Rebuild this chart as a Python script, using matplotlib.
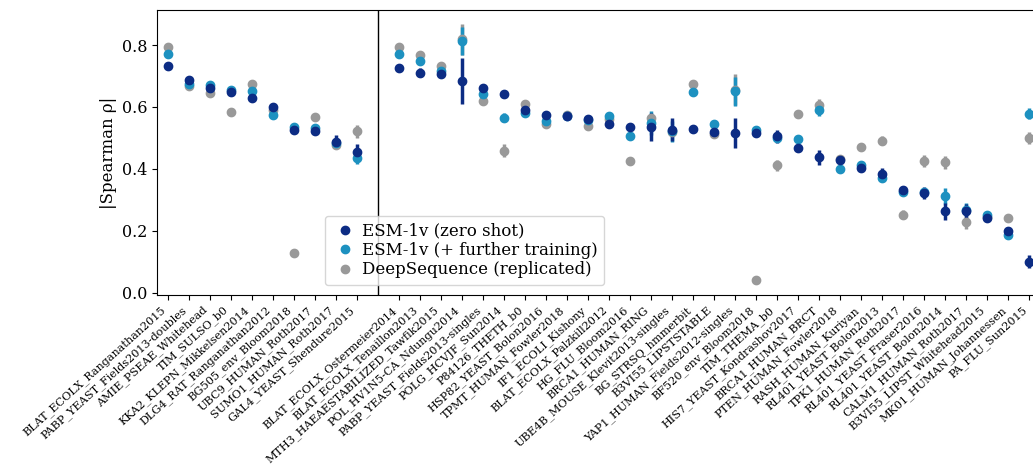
import numpy as np
import matplotlib.pyplot as plt
from matplotlib.lines import Line2D

plt.rcParams['font.family'] = 'DejaVu Serif'

left_names = ['BLAT_ECOLX_Ranganathan2015', 'PABP_YEAST_Fields2013-doubles',
              'AMIE_PSEAE_Whitehead', 'TIM_SULSO_b0', 'KKA2_KLEPN_Mikkelsen2014',
              'DLG4_RAT_Ranganathan2012', 'BG505_env_Bloom2018', 'UBC9_HUMAN_Roth2017',
              'SUMO1_HUMAN_Roth2017', 'GAL4_YEAST_Shendure2015']
right_names = ['BLAT_ECOLX_Ostermeier2014', 'BLAT_ECOLX_Tenaillon2013',
               'MTH3_HAEAESTABILIZED_Tawfik2015', 'POL_HV1N5-CA_Ndungu2014',
               'PABP_YEAST_Fields2013-singles', 'POLG_HCVJF_Sun2014', 'P84126_THETH_b0',
               'HSP82_YEAST_Bolon2016', 'TPMT_HUMAN_Fowler2018', 'IF1_ECOLI_Kishony',
               'BLAT_ECOLX_Palzkill2012', 'HG_FLU_Bloom2016', 'BRCA1_HUMAN_RING',
               'UBE4B_MOUSE_Klevit2013-singles', 'BG_STRSQ_hmmerbit', 'B3VI55_LIPSTSTABLE',
               'YAP1_HUMAN_Fields2012-singles', 'BF520_env_Bloom2018', 'TIM_THEMA_b0',
               'HIS7_YEAST_Kondrashov2017', 'BRCA1_HUMAN_BRCT', 'PTEN_HUMAN_Fowler2018',
               'RASH_HUMAN_Kuriyan', 'RL401_YEAST_Bolon2013', 'TPK1_HUMAN_Roth2017',
               'RL401_YEAST_Fraser2016', 'RL401_YEAST_Bolon2014', 'CALM1_HUMAN_Roth2017',
               'B3VI55_LIPST_Whitehead2015', 'MK01_HUMAN_Johannessen', 'PA_FLU_Sun2015']

# zero shot
esm_zs = [0.731, 0.686, 0.662, 0.647, 0.629, 0.601, 0.527, 0.524, 0.488, 0.455,
          0.727, 0.711, 0.706, 0.683, 0.662, 0.641, 0.589, 0.575, 0.572, 0.561,
          0.546, 0.536, 0.535, 0.527, 0.529, 0.518, 0.516, 0.516, 0.505, 0.468,
          0.437, 0.428, 0.402, 0.384, 0.333, 0.323, 0.263, 0.263, 0.242, 0.199, 0.101]
esm_zs_err = [0.005, 0.008, 0.008, 0.012, 0.005, 0.005, 0.008, 0.01, 0.02, 0.025,
              0.005, 0.015, 0.008, 0.075, 0.005, 0.005, 0.008, 0.005, 0.005, 0.005,
              0.005, 0.005, 0.046, 0.038, 0.005, 0.005, 0.048, 0.005, 0.02, 0.005,
              0.025, 0.005, 0.005, 0.018, 0.012, 0.02, 0.028, 0.025, 0.005, 0.015, 0.02]
# further training
esm_ft = [0.772, 0.675, 0.671, 0.656, 0.653, 0.575, 0.535, 0.532, 0.484, 0.435,
          0.772, 0.748, 0.715, 0.814, 0.643, 0.565, 0.581, 0.554, 0.570, 0.559,
          0.572, 0.505, 0.548, 0.521, 0.649, 0.545, 0.650, 0.527, 0.500, 0.497,
          0.591, 0.401, 0.414, 0.371, 0.325, 0.325, 0.312, 0.269, 0.250, 0.188, 0.578]
esm_ft_err = [0.005, 0.005, 0.01, 0.01, 0.008, 0.005, 0.005, 0.005, 0.01, 0.02,
              0.005, 0.008, 0.005, 0.045, 0.005, 0.015, 0.008, 0.005, 0.005, 0.005,
              0.005, 0.005, 0.04, 0.035, 0.005, 0.005, 0.046, 0.005, 0.01, 0.005,
              0.02, 0.005, 0.005, 0.01, 0.008, 0.01, 0.025, 0.02, 0.005, 0.01, 0.018]
# DeepSequence
ds = [0.794, 0.669, 0.645, 0.585, 0.673, 0.591, 0.128, 0.568, 0.478, 0.521,
      0.794, 0.769, 0.733, 0.819, 0.618, 0.459, 0.611, 0.545, 0.574, 0.538,
      0.560, 0.425, 0.565, 0.520, 0.673, 0.513, 0.655, 0.043, 0.412, 0.578,
      0.605, 0.433, 0.470, 0.491, 0.252, 0.425, 0.421, 0.230, 0.245, 0.240, 0.500]
ds_err = [0.005, 0.005, 0.008, 0.012, 0.005, 0.005, 0.005, 0.008, 0.01, 0.02,
          0.005, 0.005, 0.005, 0.05, 0.005, 0.02, 0.008, 0.005, 0.005, 0.005,
          0.005, 0.005, 0.01, 0.01, 0.005, 0.005, 0.05, 0.005, 0.018, 0.005,
          0.02, 0.005, 0.005, 0.015, 0.015, 0.02, 0.022, 0.025, 0.005, 0.005, 0.018]

names = left_names + right_names
x = list(range(len(left_names))) + list(range(len(left_names) + 1, len(names) + 1))

c_zs, c_ft, c_ds = '#0c2c84', '#1d91c0', '#999999'

fig = plt.figure(figsize=(10.33, 4.67), dpi=100)
ax = fig.add_axes([0.1523, 0.3683, 0.8543, 0.6103])

ax.errorbar(x, ds, yerr=ds_err, fmt='o', c=c_ds, ms=6, elinewidth=2.5)
ax.errorbar(x, esm_ft, yerr=esm_ft_err, fmt='o', c=c_ft, ms=6, elinewidth=2.5)
ax.errorbar(x, esm_zs, yerr=esm_zs_err, fmt='o', c=c_zs, ms=6, elinewidth=2.5)
ax.axvline(len(left_names), c='k', lw=1)

ax.set_xticks(x)
ax.set_xticklabels(names, rotation=42, ha='right', fontsize=8.1)
ax.set_xlim(-0.5, len(names) + 0.5)
ax.set_ylim(-0.007, 0.913)
ax.set_yticks([0.0, 0.2, 0.4, 0.6, 0.8])
ax.tick_params(axis='y', labelsize=11.5)
ax.set_ylabel('|Spearman ρ|', fontsize=12)

handles = [Line2D([], [], ls='none', marker='o', ms=6, c=c) for c in (c_zs, c_ft, c_ds)]
labels = ['ESM-1v (zero shot)', 'ESM-1v (+ further training)', 'DeepSequence (replicated)']
ax.legend(handles, labels, loc='lower left', bbox_to_anchor=(0.19, 0.035),
          borderaxespad=0, fontsize=12, labelspacing=0.15, handletextpad=0.2,
          handlelength=1.6)

plt.savefig('out.png', dpi=100)
